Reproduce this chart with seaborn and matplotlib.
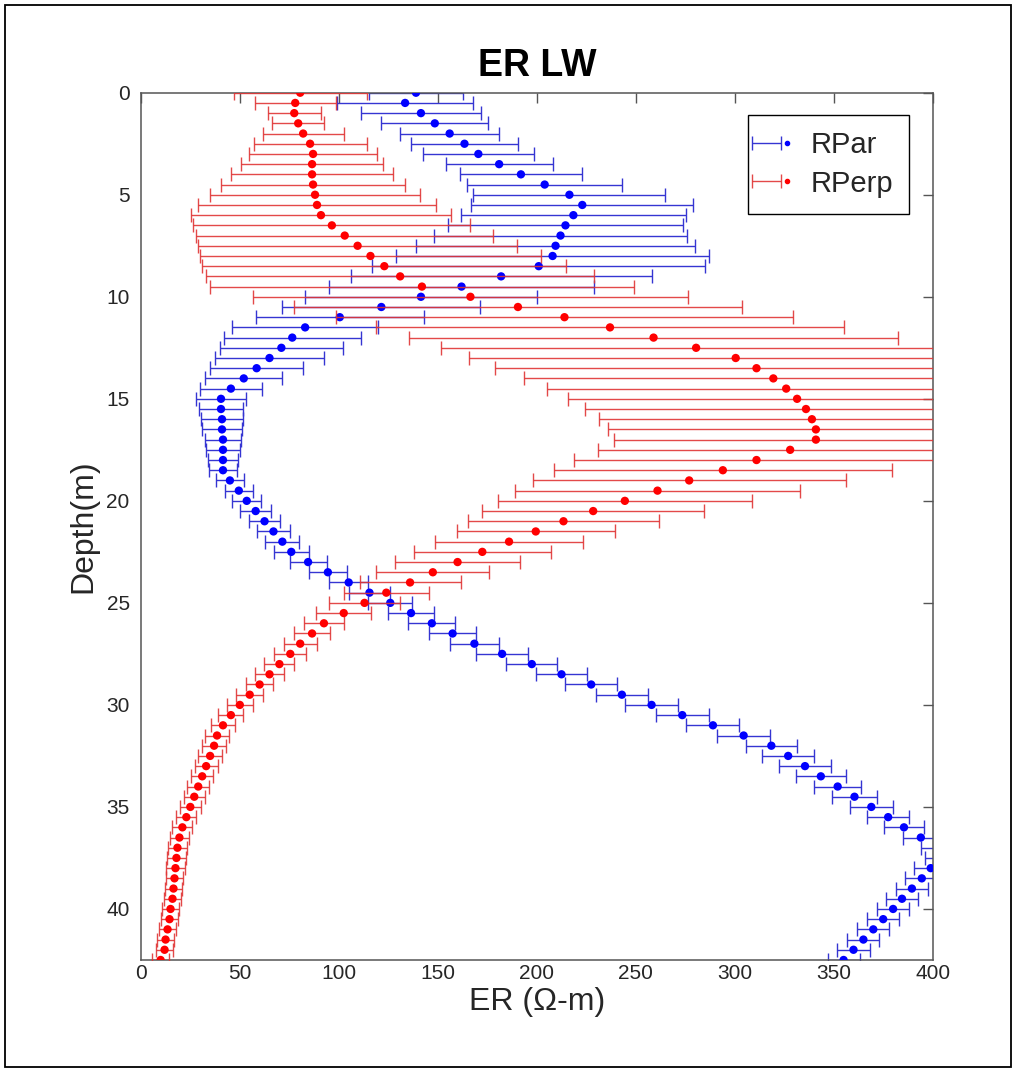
import numpy as np
import pandas as pd
import matplotlib
matplotlib.use("Agg")
import matplotlib.pyplot as plt
import seaborn as sns
from matplotlib.lines import Line2D
from matplotlib.legend_handler import HandlerTuple
from matplotlib.patches import Rectangle

# ---------------- data ----------------
depth = [0.0, 0.5, 1.0, 1.5, 2.0, 2.5, 3.0, 3.5, 4.0, 4.5, 5.0, 5.5, 6.0, 6.5, 7.0, 7.5,
         8.0, 8.5, 9.0, 9.5, 10.0, 10.5, 11.0, 11.5, 12.0, 12.5, 13.0, 13.5, 14.0, 14.5,
         15.0, 15.5, 16.0, 16.5, 17.0, 17.5, 18.0, 18.5, 19.0, 19.5, 20.0, 20.5, 21.0,
         21.5, 22.0, 22.5, 23.0, 23.5, 24.0, 24.5, 25.0, 25.5, 26.0, 26.5, 27.0, 27.5,
         28.0, 28.5, 29.0, 29.5, 30.0, 30.5, 31.0, 31.5, 32.0, 32.5, 33.0, 33.5, 34.0,
         34.5, 35.0, 35.5, 36.0, 36.5, 37.0, 37.5, 38.0, 38.5, 39.0, 39.5, 40.0, 40.5,
         41.0, 41.5, 42.0, 42.5]

rpar = [139, 133.5, 141.5, 148.5, 156, 163.5, 170.5, 181, 192, 204, 216.5, 223, 218.5,
        214.5, 212, 209.5, 208, 201, 182, 162, 141.5, 121.5, 100.5, 83, 76.5, 71, 65,
        58.5, 52, 45.5, 40.5, 40.5, 41, 41, 41.5, 41.5, 41.5, 41.5, 45, 49.5, 53.5, 58,
        62.5, 67, 71.5, 76, 84.5, 94.5, 105, 115.5, 126, 136.5, 147, 157.5, 168.5, 182.5,
        197.5, 212.5, 227.5, 243, 258, 273.5, 289, 304.5, 318.5, 327, 335.5, 343.5, 352,
        360.5, 369, 377.5, 385.5, 394, 403, 405, 399, 394.5, 389.5, 384.5, 380, 375, 370,
        365, 360, 355]

rpar_err = [23.5, 34.5, 30.5, 27, 25, 27, 28, 27, 31, 39, 48.5, 56, 57, 59.5, 64, 70.5,
            79, 84, 76, 67, 58.5, 50, 42.5, 37, 34.5, 31, 27.5, 23.5, 19.5, 15.5, 12.5, 11,
            10.5, 10, 9, 8.5, 7.5, 7, 7, 7, 7.2, 7.8, 8, 8.3, 8.6, 8.8, 9.3, 9.6, 9.8, 10.3,
            11, 11.7, 11.8, 11.8, 12.5, 13, 12.8, 13, 13, 13, 13.2, 13.4, 13.4, 13.4, 13,
            13, 12.9, 12.5, 12, 11.5, 11, 10.5, 10, 9.2, 9, 9, 8.5, 8.3, 8.2, 8.1, 8.1, 8.1,
            8.1, 8.1, 8.1, 8.1]

rperp = [80.5, 78, 77.5, 79.5, 82, 85.5, 87, 86.5, 86.5, 87, 88, 89, 91, 96.5, 103, 109.5,
         116, 123, 131, 142, 166.5, 190.5, 214, 237, 259, 280.5, 300.5, 311, 319.5, 326,
         331.5, 336, 339, 341, 341, 328, 311, 294, 277, 261, 244.5, 228.5, 213.5, 199.5,
         186, 172.5, 160, 147.5, 136, 124, 113, 102.5, 92.5, 86.5, 80.5, 75.5, 70, 65, 60,
         55, 50, 45.5, 41.5, 38.5, 37, 35, 33, 31, 29, 27, 25, 23, 21, 19.5, 18.5, 18,
         17.5, 17, 16.5, 16, 15, 14.5, 13.5, 12.5, 12, 10]

rperp_err = [33.5, 20.5, 13.5, 13, 20.5, 28.5, 32.5, 36, 41, 46.5, 53, 60, 65.5, 70, 75,
             80.5, 86, 92, 98, 107, 110, 113, 115.5, 118, 123.5, 129, 134.5, 132, 126, 121,
             115.5, 111.5, 107.5, 105, 102, 97, 92, 85.5, 79, 72, 64, 56, 48, 40, 37.5,
             34.5, 31.5, 28.5, 25.5, 21.5, 18, 14, 10.3, 9, 8.3, 8, 7.6, 7.3, 7, 6.8, 6.5,
             6.3, 6.2, 6, 6, 6, 5.8, 5.6, 5.5, 5.4, 5.3, 5.1, 5, 4.9, 4.8, 4.7, 4.6, 4.5,
             4.5, 4.4, 4.3, 4.3, 4.2, 4.2, 4.1, 4.1]

series_names = ["RPar", "RPerp"]
x_ticks = [0, 50, 100, 150, 200, 250, 300, 350, 400]
y_ticks = [0, 5, 10, 15, 20, 25, 30, 35, 40]

# ---------------- styling ----------------
sns.set_theme(style="white")
plt.rcParams["font.family"] = ["Liberation Sans", "DejaVu Sans"]

df = pd.DataFrame({"depth": depth, "rpar": rpar, "rpar_err": rpar_err,
                   "rperp": rperp, "rperp_err": rperp_err})

blue_dot, blue_bar = "#0000ff", "#3535d2"
red_dot, red_bar = "#ff0000", "#e03535"

fig = plt.figure(figsize=(10.16, 10.72), dpi=100)
ax = fig.add_axes([0.1386, 0.1045, 0.7794, 0.809])

eb_b = ax.errorbar(df["rpar"], df["depth"], xerr=df["rpar_err"], fmt="none",
                   ecolor=blue_bar, elinewidth=1.0, capsize=5, capthick=1.0, zorder=2)
sns.scatterplot(data=df, x="rpar", y="depth", color=blue_dot, s=36, edgecolor="none",
                linewidth=0, zorder=3, ax=ax, legend=False)
eb_r = ax.errorbar(df["rperp"], df["depth"], xerr=df["rperp_err"], fmt="none",
                   ecolor=red_bar, elinewidth=1.0, capsize=5, capthick=1.0, zorder=4,
                   alpha=0.9)
sns.scatterplot(data=df, x="rperp", y="depth", color=red_dot, s=36, edgecolor="none",
                linewidth=0, zorder=5, ax=ax, legend=False)

ax.set_xlim(0, 400)
ax.set_ylim(42.5, 0)
ax.set_xticks(x_ticks)
ax.set_yticks(y_ticks)
ax.tick_params(direction="in", length=7, width=1, color="#555555", labelsize=15,
               labelcolor="#262626", top=True, right=True)
ax.tick_params(axis="x", pad=3)
ax.tick_params(axis="y", pad=8)
for sp in ax.spines.values():
    sp.set_color("#555555")
    sp.set_linewidth(1.1)

ax.set_title("ER LW", fontsize=27, fontweight="bold", pad=12, color="black")
ax.set_xlabel("ER (Ω-m)", fontsize=23, color="#262626", labelpad=3)
ax.set_ylabel("Depth(m)", fontsize=23, color="#262626", labelpad=6)

h_b = (eb_b, Line2D([], [], marker="o", ls="none", color=blue_dot, markersize=3))
h_r = (eb_r, Line2D([], [], marker="o", ls="none", color=red_dot, markersize=3))
leg = ax.legend([h_b, h_r], series_names, handler_map={tuple: HandlerTuple(ndivide=None)},
                loc="upper right", bbox_to_anchor=(0.970, 0.974), fontsize=21,
                frameon=True, fancybox=False, framealpha=1, edgecolor="black",
                handlelength=0.9, handletextpad=0.7, borderpad=0.55, labelspacing=0.35,
                borderaxespad=0)
leg.get_frame().set_linewidth(1.0)

fig.patches.append(Rectangle((5 / 1016, 5 / 1072), 1006 / 1016, 1062 / 1072,
                             transform=fig.transFigure, fill=False,
                             edgecolor="black", linewidth=1.3))

fig.savefig("out.png", dpi=100, facecolor="white")
